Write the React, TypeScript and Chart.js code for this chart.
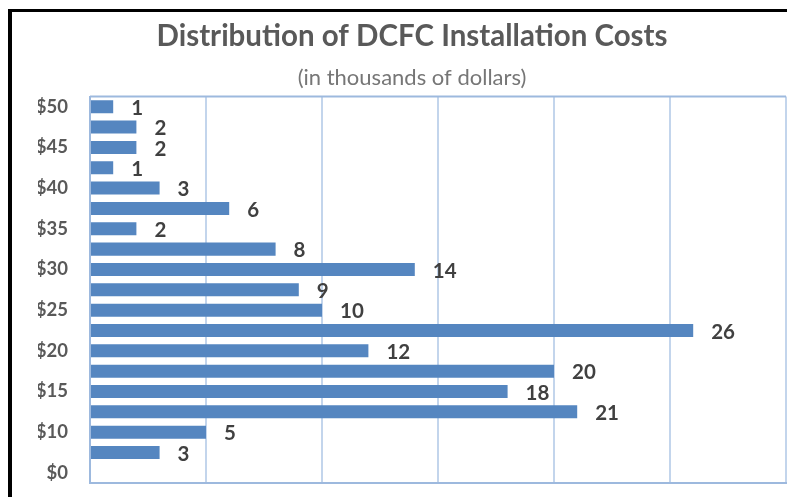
import React, { useEffect, useRef } from "react";
import { Chart, registerables } from "chart.js";

Chart.register(...registerables);

const categories = ["$50", "", "$45", "", "$40", "", "$35", "", "$30", "", "$25", "", "$20", "", "$15", "", "$10", "", "$0"];
const counts: (number | null)[] = [1, 2, 2, 1, 3, 6, 2, 8, 14, 9, 10, 26, 12, 20, 18, 21, 5, 3, null];
const xMin = 0;
const xMax = 30;
const xStep = 5;
const titleText = "Distribution of DCFC Installation Costs";
const subtitleText = "(in thousands of dollars)";

const BAR_COLOR = "#5586C0";
const GRID_COLOR = "#C3D5EC";
const BORDER_COLOR = "#9DB9DE";

const plotBorder = {
  id: "plotBorder",
  beforeDatasetsDraw(chart: any) {
    const { ctx, chartArea } = chart;
    ctx.save();
    ctx.strokeStyle = BORDER_COLOR;
    ctx.lineWidth = 2;
    ctx.beginPath();
    ctx.moveTo(chartArea.left, chartArea.top);
    ctx.lineTo(chartArea.right, chartArea.top);
    ctx.stroke();
    ctx.restore();
  },
};

const valueLabels = {
  id: "valueLabels",
  afterDatasetsDraw(chart: any) {
    const { ctx } = chart;
    const meta = chart.getDatasetMeta(0);
    const data = chart.data.datasets[0].data;
    ctx.save();
    ctx.font = "bold 20.5px Lato";
    ctx.fillStyle = "#404040";
    ctx.textAlign = "left";
    ctx.textBaseline = "middle";
    meta.data.forEach((bar: any, i: number) => {
      const v = data[i];
      if (v === null || v === undefined || v <= 0) return;
      ctx.fillText(String(v), bar.x + 18, bar.y + 1.5);
    });
    ctx.restore();
  },
};

export default function App() {
  const canvasRef = useRef<HTMLCanvasElement | null>(null);

  useEffect(() => {
    if (!canvasRef.current) return;
    const chart = new Chart(canvasRef.current, {
      type: "bar",
      data: {
        labels: categories,
        datasets: [
          {
            data: counts,
            backgroundColor: BAR_COLOR,
            borderWidth: 0,
            categoryPercentage: 1,
            barPercentage: 0.64,
          },
        ],
      },
      options: {
        indexAxis: "y",
        responsive: false,
        animation: false,
        devicePixelRatio: 1,
        layout: { padding: { left: 26, right: 1, top: 0, bottom: 14 } },
        plugins: {
          legend: { display: false },
          tooltip: { enabled: false },
          title: {
            display: true,
            text: titleText,
            color: "#595959",
            font: { family: "Lato", size: 29.5, weight: "bold", lineHeight: 1.2 },
            padding: { top: 7, bottom: 0 },
          },
          subtitle: {
            display: true,
            text: subtitleText,
            color: "#767676",
            font: { family: "Lato", size: 22, weight: "normal", lineHeight: 1.2 },
            padding: { top: 10.5, bottom: 5.3 },
          },
        },
        scales: {
          x: {
            min: xMin,
            max: xMax,
            ticks: { display: false, stepSize: xStep },
            grid: { color: GRID_COLOR, lineWidth: 2, drawTicks: false },
            border: { display: true, color: BORDER_COLOR, width: 2 },
            afterFit: (s: any) => {
              s.height = 0;
            },
          },
          y: {
            ticks: {
              autoSkip: false,
              padding: 22,
              color: "#595959",
              font: { family: "Lato", size: 18.5, weight: "bold" },
            },
            grid: { display: false, drawTicks: false },
            border: { display: true, color: BORDER_COLOR, width: 2 },
            afterFit: (s: any) => {
              s.width = 52;
              s.paddingTop = 0;
              s.paddingBottom = 0;
            },
          },
        },
      },
      plugins: [plotBorder, valueLabels],
    });
    return () => chart.destroy();
  }, []);

  return (
    <div
      style={{
        position: "fixed",
        left: 8,
        top: 9,
        borderLeft: "4px solid #000",
        borderTop: "3px solid #000",
        width: 775,
        height: 485,
        background: "#fff",
      }}
    >
      <canvas ref={canvasRef} width={775} height={485} style={{ display: "block" }} />
    </div>
  );
}
